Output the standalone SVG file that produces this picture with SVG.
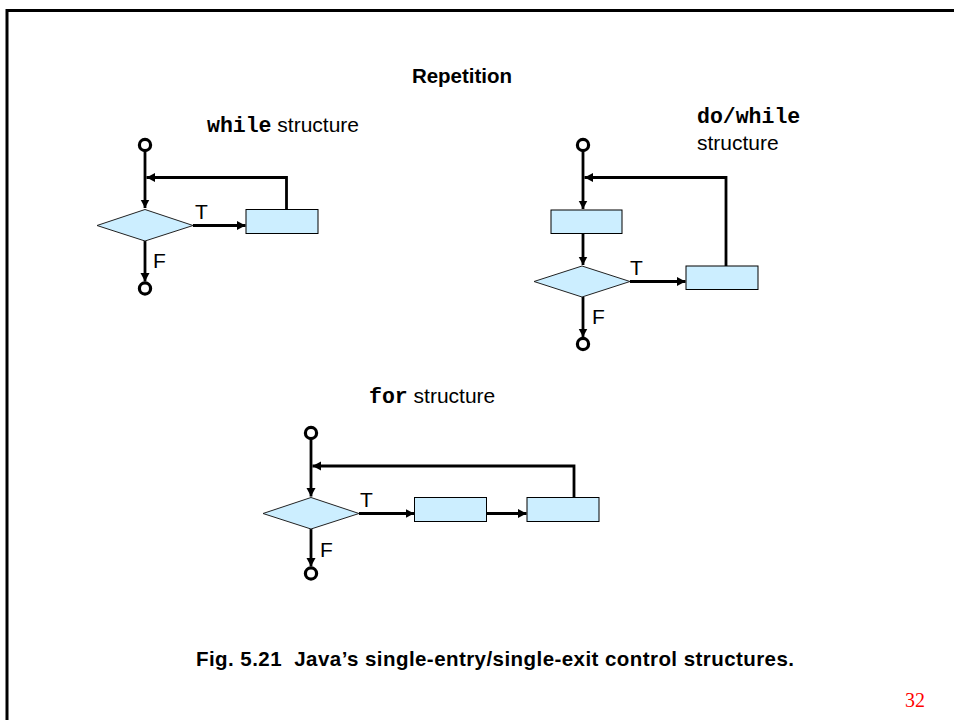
<svg xmlns="http://www.w3.org/2000/svg" width="954" height="720" viewBox="0 0 954 720">
  <defs>
    <marker id="arrow" markerUnits="userSpaceOnUse" markerWidth="10" markerHeight="10" refX="8.5" refY="4.5" orient="auto">
      <path d="M0,0 L8.5,4.5 L0,9 z" fill="#000"/>
    </marker>
    <style>
      .frame { fill: none; stroke: #000; stroke-width: 3; }
      .flow { fill: none; stroke: #000; stroke-width: 2.8; }
      .flow.arr { marker-end: url(#arrow); }
      .term { fill: #fff; stroke: #000; stroke-width: 3.2; }
      .proc { fill: #cceeff; stroke: #000; stroke-width: 1; }
      .dec { fill: #cceeff; stroke: #222; stroke-width: 1; }
      .lbl { font-family: "Liberation Sans", Arial, sans-serif; font-size: 21px; fill: #000; }
      .kw { font-family: "Liberation Mono", "Courier New", monospace; font-weight: bold; font-size: 21.5px; }
      .title { font-family: "Liberation Sans", Arial, sans-serif; font-size: 20.5px; font-weight: bold; fill: #000; }
      .cap { font-family: "Liberation Sans", Arial, sans-serif; font-size: 20.5px; font-weight: bold; fill: #000; white-space: pre; }
      .page { font-family: "Liberation Serif", "Times New Roman", serif; font-size: 20px; fill: #ff0000; }
    </style>
  </defs>

  <!-- slide frame -->
  <rect class="frame" x="7" y="10.5" width="970" height="730"/>

  <text class="title" x="462" y="83" text-anchor="middle">Repetition</text>

  <!-- headings -->
  <text class="lbl" x="207" y="132"><tspan class="kw">while</tspan> structure</text>
  <text class="lbl" x="697" y="123"><tspan class="kw">do/while</tspan></text>
  <text class="lbl" x="697" y="150">structure</text>
  <text class="lbl" x="369" y="403"><tspan class="kw">for</tspan> structure</text>

  <!-- connectors -->
  <g id="connectors">
    <!-- while -->
    <path class="flow arr" d="M145,151 V208"/>
    <path class="flow arr" d="M286.5,209 V177.5 H146.5"/>
    <path class="flow arr" d="M193,225.5 H245.5"/>
    <path class="flow arr" d="M145,241 V281.5"/>
    <!-- do/while -->
    <path class="flow arr" d="M583,151 V209"/>
    <path class="flow arr" d="M726,266 V177.5 H584.5"/>
    <path class="flow arr" d="M583,233.5 V265"/>
    <path class="flow arr" d="M630,281.5 H685.5"/>
    <path class="flow arr" d="M583,297 V337"/>
    <!-- for -->
    <path class="flow arr" d="M311,439 V496.5"/>
    <path class="flow arr" d="M574,497.5 V466 H312.5"/>
    <path class="flow arr" d="M359,513.5 H414"/>
    <path class="flow arr" d="M487,513.5 H526.5"/>
    <path class="flow arr" d="M311,529 V566.5"/>
  </g>

  <!-- while structure -->
  <g id="while-start"><circle class="term" cx="145" cy="145" r="5.6"/></g>
  <g id="while-cond"><polygon class="dec" points="97,225.5 145,209.5 193,225.5 145,241"/></g>
  <g id="while-body"><rect class="proc" x="246" y="209.5" width="72" height="24"/></g>
  <g id="while-end"><circle class="term" cx="145" cy="288.5" r="5.6"/></g>
  <text class="lbl" x="195" y="219">T</text>
  <text class="lbl" x="153" y="268">F</text>

  <!-- do/while structure -->
  <g id="dowhile-start"><circle class="term" cx="583" cy="145" r="5.6"/></g>
  <g id="dowhile-body"><rect class="proc" x="551" y="210" width="71" height="23.5"/></g>
  <g id="dowhile-cond"><polygon class="dec" points="534,281.5 582,266 630,281.5 582,297"/></g>
  <g id="dowhile-update"><rect class="proc" x="686" y="266" width="72" height="23.5"/></g>
  <g id="dowhile-end"><circle class="term" cx="583" cy="344" r="5.6"/></g>
  <text class="lbl" x="630" y="275">T</text>
  <text class="lbl" x="592" y="324">F</text>

  <!-- for structure -->
  <g id="for-start"><circle class="term" cx="311" cy="433" r="5.6"/></g>
  <g id="for-cond"><polygon class="dec" points="263,513.5 311,497.5 359,513.5 311,529"/></g>
  <g id="for-body"><rect class="proc" x="414.5" y="497.5" width="72" height="24"/></g>
  <g id="for-incr"><rect class="proc" x="527" y="497.5" width="72" height="24"/></g>
  <g id="for-end"><circle class="term" cx="311" cy="573.5" r="5.6"/></g>
  <text class="lbl" x="360" y="507">T</text>
  <text class="lbl" x="320" y="557">F</text>

  <text class="cap" x="196" y="666" textLength="598" lengthAdjust="spacing" xml:space="preserve">Fig. 5.21  Java’s single-entry/single-exit control structures.</text>
  <text class="page" x="905" y="707">32</text>
</svg>
